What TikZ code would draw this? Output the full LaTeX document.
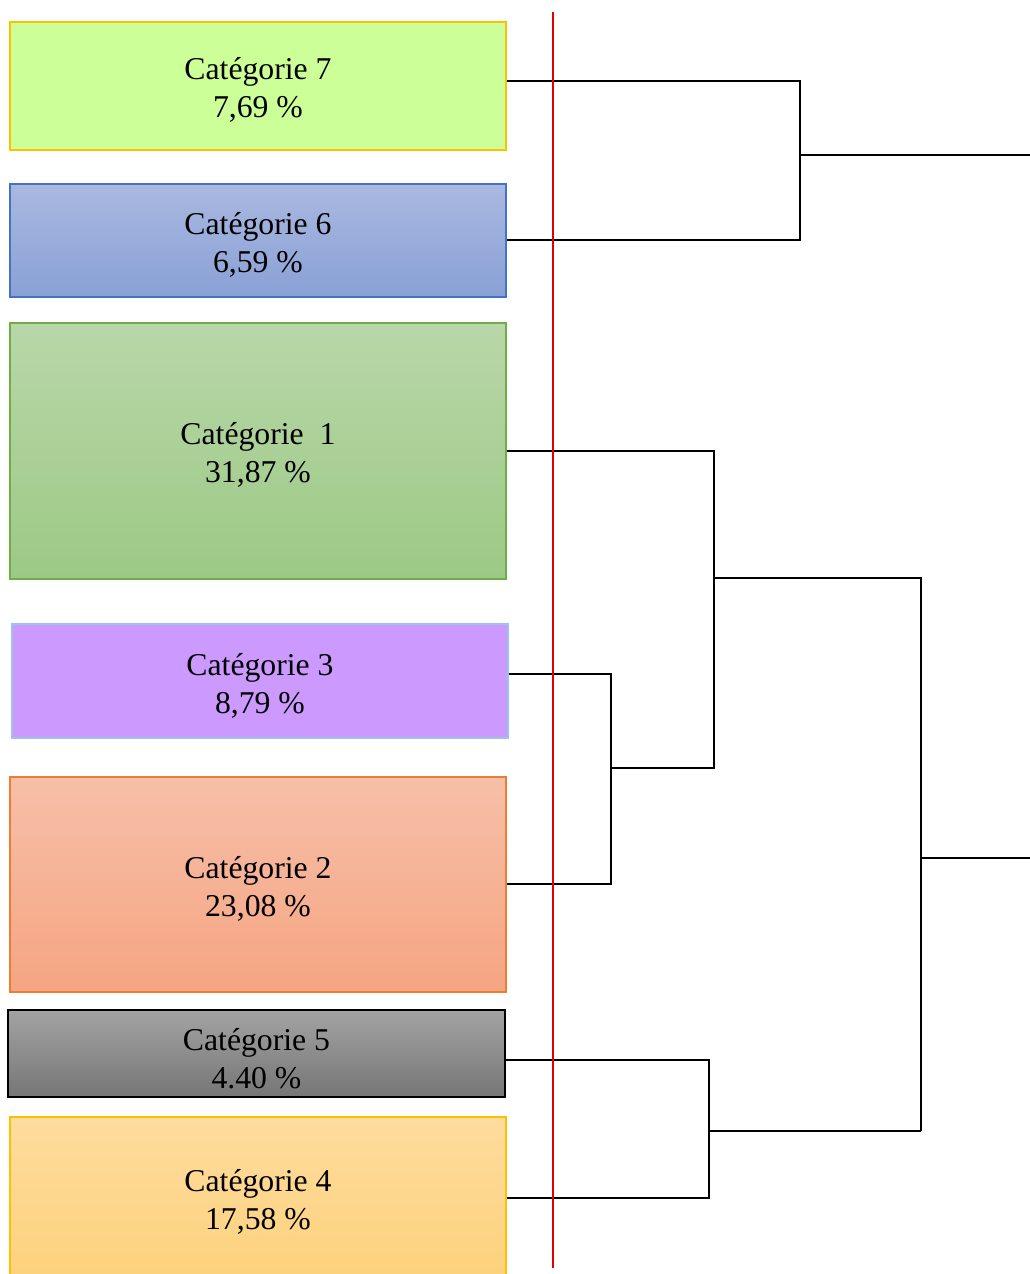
\documentclass[tikz,border=0pt]{standalone}
\usepackage{fontspec}
\setmainfont{Liberation Serif}
% two-line label of a category, lowered a little inside its box
% (declared height and depth kept, so the box stays centred as before)
\newcommand\catlabel[3][-4pt]{\raisebox{#1}[\height][\depth]{\begin{tabular}{@{}c@{}}#2\\#3\end{tabular}}}
\begin{document}
\begin{tikzpicture}[x=0.75pt,y=-0.75pt,
  catbox/.style={rectangle, inner sep=0pt, line width=0.9pt, align=center,
    minimum width=372pt, font=\fontsize{23.8}{28.5}\selectfont},
  link/.style={draw=black, line width=0.95pt},
  cutline/.style={draw=red!90!black, line width=0.8pt}]
\useasboundingbox (0,0) rectangle (1030,1274);

% categories
\node[catbox, minimum height=96pt, fill={rgb,255:red,205;green,255;blue,153},
  draw={rgb,255:red,255;green,192;blue,0}] (c7) at (258,86)
  {\catlabel{Catégorie 7}{7,69 \%}};
\node[catbox, minimum height=84.75pt, shading=axis,
  top color={rgb,255:red,170;green,184;blue,224},
  bottom color={rgb,255:red,137;green,161;blue,214},
  draw={rgb,255:red,68;green,114;blue,196}] (c6) at (258,240.5)
  {\catlabel{Catégorie 6}{6,59 \%}};
\node[catbox, minimum height=192pt, shading=axis,
  top color={rgb,255:red,185;green,215;blue,169},
  bottom color={rgb,255:red,156;green,201;blue,133},
  draw={rgb,255:red,112;green,173;blue,71}] (c1) at (258,451)
  {\catlabel{Catégorie\ \ 1}{31,87 \%}};
\node[catbox, minimum height=85.5pt, fill={rgb,255:red,204;green,153;blue,255},
  draw={rgb,255:red,157;green,195;blue,230}] (c3) at (260,681)
  {\catlabel[-4.5pt]{Catégorie 3}{8,79 \%}};
\node[catbox, minimum height=161.25pt, shading=axis,
  top color={rgb,255:red,247;green,191;blue,168},
  bottom color={rgb,255:red,245;green,165;blue,130},
  draw={rgb,255:red,237;green,125;blue,49}] (c2) at (258,884.5)
  {\catlabel{Catégorie 2}{23,08 \%}};
\node[catbox, minimum width=372.75pt, minimum height=65.25pt, shading=axis,
  top color={rgb,255:red,163;green,163;blue,163},
  bottom color={rgb,255:red,118;green,118;blue,118},
  draw=black] (c5) at (256.5,1053.5)
  {\catlabel[-6.5pt]{Catégorie 5}{4.40 \%}};
\node[catbox, minimum height=119.25pt, shading=axis,
  top color={rgb,255:red,254;green,220;blue,158},
  bottom color={rgb,255:red,253;green,210;blue,125},
  draw={rgb,255:red,255;green,192;blue,0}] (c4) at (258,1196.5)
  {\catlabel[-5pt]{Catégorie 4}{17,58 \%}};

% branch points of the tree
\coordinate (a7) at (800,81);
\coordinate (a6) at (800,240);
\coordinate (aout) at (1030,155);
\coordinate (b3) at (611,674);
\coordinate (b2) at (611,884);
\coordinate (bm) at (611,768);
\coordinate (d1) at (714,451);
\coordinate (dm) at (714,768);
\coordinate (dj) at (714,578);
\coordinate (r1) at (921,578);
\coordinate (r2) at (921,1131);
\coordinate (rout) at (1030,858);
\coordinate (e5) at (709,1060);
\coordinate (e4) at (709,1198);
\coordinate (em) at (709,1131);

% links
\draw[link] (c7.east |- a7) -- (a7) -- (a6) -- (c6.east |- a6);
\draw[link] (a7 |- aout) -- (aout);
\draw[link] (c3.east |- b3) -- (b3) -- (b2) -- (c2.east |- b2);
\draw[link] (c1.east |- d1) -- (d1) -- (dm) -- (bm);
\draw[link] (dj) -- (r1) -- (r2);
\draw[link] (r1 |- rout) -- (rout);
\draw[link] (c5.east |- e5) -- (e5) -- (e4) -- (c4.east |- e4);
\draw[link] (em) -- (r2);

% cut level
\coordinate (cuttop) at (553,12);
\coordinate (cutbot) at (553,1268);
\draw[cutline] (cuttop) -- (cutbot);
\end{tikzpicture}
\end{document}
